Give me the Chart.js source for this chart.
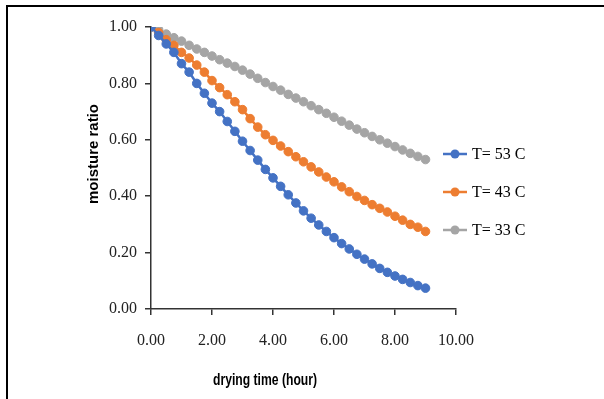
<!DOCTYPE html>
<html>
<head>
<meta charset="utf-8">
<script src="https://cdn.jsdelivr.net/npm/chart.js@4/dist/chart.umd.min.js"></script>
<style>
  html, body { margin: 0; padding: 0; background: #fff; }
  #wrap { position: relative; width: 604px; height: 399px; overflow: hidden; }
  #frame { position: absolute; left: 6px; top: 5px; width: 610px; height: 400px;
           border-top: 2px solid #000; border-left: 2px solid #000; }
  #barChart { position: absolute; left: 0; top: 0; }
</style>
</head>
<body>
<div id="wrap">
  <div id="frame"></div>
  <canvas id="barChart" width="604" height="399"></canvas>
</div>
<script>
// drying time, every 15 minutes
let hours = [0, 0.25, 0.5, 0.75, 1, 1.25, 1.5, 1.75, 2, 2.25, 2.5, 2.75, 3, 3.25, 3.5, 3.75,
    4, 4.25, 4.5, 4.75, 5, 5.25, 5.5, 5.75, 6, 6.25, 6.5, 6.75, 7, 7.25, 7.5, 7.75,
    8, 8.25, 8.5, 8.75, 9];

let t53 = [1.00, 0.97, 0.94, 0.91, 0.87, 0.84, 0.80, 0.765, 0.73, 0.70, 0.665, 0.63, 0.595,
    0.562, 0.528, 0.495, 0.465, 0.435, 0.405, 0.376, 0.348, 0.322, 0.298, 0.275, 0.253,
    0.232, 0.213, 0.194, 0.177, 0.160, 0.144, 0.130, 0.117, 0.105, 0.094, 0.083, 0.074];

let t43 = [1.00, 0.98, 0.955, 0.935, 0.91, 0.89, 0.865, 0.84, 0.81, 0.785, 0.76, 0.735, 0.707,
    0.675, 0.645, 0.618, 0.598, 0.578, 0.558, 0.54, 0.522, 0.504, 0.486, 0.468, 0.451,
    0.433, 0.416, 0.399, 0.385, 0.37, 0.357, 0.344, 0.329, 0.315, 0.30, 0.29, 0.275];

let t33 = [1.00, 0.99, 0.975, 0.962, 0.95, 0.935, 0.922, 0.91, 0.897, 0.884, 0.872, 0.86, 0.847,
    0.833, 0.818, 0.803, 0.789, 0.776, 0.761, 0.748, 0.735, 0.721, 0.707, 0.694, 0.68,
    0.666, 0.652, 0.638, 0.625, 0.612, 0.60, 0.588, 0.576, 0.564, 0.552, 0.541, 0.53];

let seriesNames = ["T= 53 C", "T= 43 C", "T= 33 C"];
let xTicks = [0, 2, 4, 6, 8, 10];
let yTicks = [0, 0.2, 0.4, 0.6, 0.8, 1.0];

let colors = ['#4472C4', '#ED7D31', '#A5A5A5'];
let serif = '"Liberation Serif", "Times New Roman", serif';

function points(values) {
    return hours.map((h, i) => ({ x: h, y: values[i] }));
}

// axis titles and the legend (line with a dot) are drawn here
const extras = {
    id: 'extras',
    afterDraw(chart) {
        const ctx = chart.ctx;
        const area = chart.chartArea;
        ctx.save();
        ctx.fillStyle = '#000';

        ctx.font = 'bold 15px "Liberation Sans", Arial, sans-serif';
        ctx.textAlign = 'center';
        ctx.textBaseline = 'middle';
        ctx.save();
        ctx.translate(94, 154);
        ctx.rotate(-Math.PI / 2);
        ctx.fillText('moisture ratio', 0, 0);
        ctx.restore();

        // narrow bold title, squeezed sideways
        ctx.save();
        ctx.font = 'bold 16px "Liberation Sans", Arial, sans-serif';
        ctx.translate(265, 381);
        ctx.scale(0.76, 1);
        ctx.fillText('drying time (hour)', 0, 0);
        ctx.restore();

        ctx.font = '16px ' + serif;
        ctx.textAlign = 'left';
        chart.data.datasets.forEach((ds, i) => {
            const y = 154 + i * 38;
            const x = area.right - 13;
            ctx.strokeStyle = ds.borderColor;
            ctx.lineWidth = 2.5;
            ctx.beginPath();
            ctx.moveTo(x, y);
            ctx.lineTo(x + 24, y);
            ctx.stroke();
            ctx.fillStyle = ds.borderColor;
            ctx.beginPath();
            ctx.arc(x + 12, y, 4.5, 0, Math.PI * 2);
            ctx.fill();
            ctx.fillStyle = '#000';
            ctx.fillText(ds.label, x + 29, y + 1);
        });
        ctx.restore();
    }
};

let element = document.getElementById("barChart");

const myChart = new Chart(element, {
    type: 'line',
    data: {
        datasets: [t53, t43, t33].map((vals, i) => ({
            label: seriesNames[i],
            data: points(vals),
            borderColor: colors[i],
            backgroundColor: colors[i],
            borderWidth: 2.5,
            pointRadius: 4.3,
            pointBorderWidth: 1,
            pointHoverRadius: 4.3,
            tension: 0
        }))
    },
    options: {
        responsive: false,
        animation: false,
        layout: { padding: { top: 27, right: 148, bottom: 0, left: 0 } },
        plugins: {
            legend: { display: false },
            tooltip: { enabled: false }
        },
        scales: {
            x: {
                type: 'linear',
                min: 0,
                max: 10,
                afterFit: s => { s.height = 90; },
                afterBuildTicks: s => { s.ticks = xTicks.map(v => ({ value: v })); },
                grid: { drawOnChartArea: false, drawTicks: true, tickLength: 6, color: '#333', lineWidth: 1.5 },
                border: { color: '#333', width: 1.5 },
                ticks: {
                    padding: 16,
                    color: '#222',
                    font: { family: serif, size: 16 },
                    callback: v => Number(v).toFixed(2)
                }
            },
            y: {
                min: 0,
                max: 1,
                afterFit: s => { s.width = 151; },
                afterBuildTicks: s => { s.ticks = yTicks.map(v => ({ value: v })); },
                grid: { drawOnChartArea: false, drawTicks: true, tickLength: 6, color: '#333', lineWidth: 1.5 },
                border: { color: '#333', width: 1.5 },
                ticks: {
                    padding: 8,
                    color: '#222',
                    font: { family: serif, size: 16 },
                    callback: v => Number(v).toFixed(2)
                }
            }
        }
    },
    plugins: [extras]
});
</script>
</body>
</html>
